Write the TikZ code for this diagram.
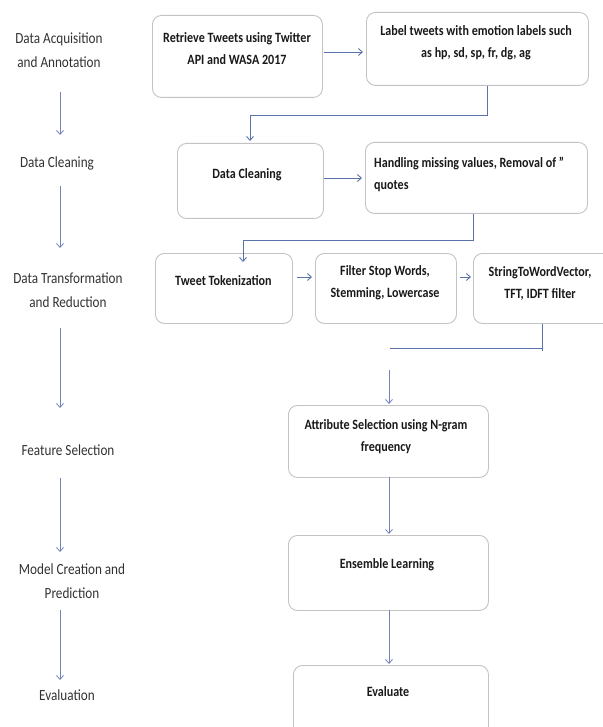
\documentclass[tikz,border=0pt]{standalone}
\usepackage{fontspec}
\setmainfont{Carlito}[FakeStretch=0.85]
\usetikzlibrary{arrows.meta}
\definecolor{boxgray}{RGB}{195,195,195}
\definecolor{linkblue}{RGB}{90,115,170}
\definecolor{arrblue}{RGB}{115,130,185}
\definecolor{labelgray}{RGB}{50,50,50}
\definecolor{boxtext}{RGB}{25,25,25}
\begin{document}
\begin{tikzpicture}[x=1pt,y=-1pt,
  box/.style={draw=boxgray, rounded corners=9pt, line width=0.9pt, anchor=north west, inner sep=0pt},
  btxt/.style={font=\fontsize{14.2}{22}\selectfont\bfseries, align=center, inner sep=0pt, text=boxtext},
  ltxt/.style={font=\fontsize{15.5}{23.5}\selectfont, align=center, inner sep=0pt, text=labelgray},
  conn/.style={draw=linkblue, line width=0.9pt},
  arr/.style={conn, -{Straight Barb[length=4pt,width=7pt]}},
  varr/.style={draw=arrblue, line width=0.8pt, -{Straight Barb[length=4pt,width=7pt]}}]
\useasboundingbox (0,0) rectangle (602,727);
% left column labels
\node[ltxt] (l1) at (59,50) {Data Acquisition\\and Annotation};
\node[ltxt] (l2) at (57,163) {Data Cleaning};
\node[ltxt] (l3) at (68,290) {Data Transformation\\and Reduction};
\node[ltxt] (l4) at (68,450) {Feature Selection};
\node[ltxt] (l5) at (72,581) {Model Creation and\\Prediction};
\node[ltxt] (l6) at (67,695) {Evaluation};
\coordinate (a1s) at (60,92);  \coordinate (a1e) at (60,135);
\coordinate (a2s) at (60,186); \coordinate (a2e) at (60,248);
\coordinate (a3s) at (60,328); \coordinate (a3e) at (60,408);
\coordinate (a4s) at (60,478); \coordinate (a4e) at (60,552);
\coordinate (a5s) at (60,610); \coordinate (a5e) at (60,680);
\draw[varr] (a1s) -- (a1e);
\draw[varr] (a2s) -- (a2e);
\draw[varr] (a3s) -- (a3e);
\draw[varr] (a4s) -- (a4e);
\draw[varr] (a5s) -- (a5e);
% boxes
\node[box, minimum width=170pt, minimum height=82pt] (b1) at (152,15) {};
\node[btxt] (t1) at (237,49) {Retrieve Tweets using Twitter\\API and WASA 2017};
\node[box, minimum width=222pt, minimum height=73pt] (b2) at (366,12) {};
\node[btxt] (t2) at (476,43) {Label tweets with emotion labels such\\as hp, sd, sp, fr, dg, ag};
\node[box, minimum width=146pt, minimum height=75pt] (b3) at (177,143) {};
\node[btxt] (t3) at (247,175) {Data Cleaning};
\node[box, minimum width=222pt, minimum height=71pt] (b4) at (365,142) {};
\node[btxt, align=left, anchor=west] (t4) at (374,174) {Handling missing values, Removal of "\\quotes};
\node[box, minimum width=137pt, minimum height=70pt] (b5) at (155,253) {};
\node[btxt, anchor=west] (t5) at (175,281) {Tweet Tokenization};
\node[box, minimum width=141pt, minimum height=70pt] (b6) at (315,253) {};
\node[btxt] (t6) at (385,283) {Filter Stop Words,\\Stemming, Lowercase};
\node[box, minimum width=140pt, minimum height=70pt] (b7) at (473,253) {};
\node[btxt] (t7) at (540,283) {StringToWordVector,\\TFT, IDFT filter};
\node[box, minimum width=200pt, minimum height=72pt] (b8) at (288,405) {};
\node[btxt] (t8) at (386,437) {Attribute Selection using N-gram\\frequency};
\node[box, minimum width=200pt, minimum height=75pt] (b9) at (288,535) {};
\node[btxt] (t9) at (387,565) {Ensemble Learning};
\node[box, minimum width=195pt, minimum height=80pt] (b10) at (293,665) {};
\node[btxt] (t10) at (388,692) {Evaluate};
% connectors
\coordinate (c12s) at (324,52);
\draw[arr] (c12s) -- ([xshift=-3pt]c12s -| b2.west);
\coordinate (k1) at (487,115);
\draw[conn] (k1 |- b2.south) -- (k1) -- (250,115) coordinate (k1e);
\draw[arr] (k1e) -- ([yshift=2pt]k1e |- b3.north);
\coordinate (c34s) at (324,178);
\draw[arr] (c34s) -- ([xshift=-3pt]c34s -| b4.west);
\coordinate (k2) at (473,240);
\draw[conn] (k2 |- b4.south) -- (k2) -- (243,240) coordinate (k2e);
\draw[arr] (k2e) -- ([yshift=-9pt]k2e |- b5.north);
\coordinate (c56s) at (297,277);
\draw[arr] (c56s) -- ([xshift=-3pt]c56s -| b6.west);
\coordinate (c67s) at (460,277);
\draw[arr] (c67s) -- ([xshift=-2pt]c67s -| b7.west);
\coordinate (k3) at (542,348);
\coordinate (k3e) at (390,348);
\draw[conn] (k3 |- b7.south) -- (542,351);
\draw[conn] (k3) -- (k3e);
\coordinate (a8s) at (389,370);
\draw[varr] (a8s) -- ([yshift=1pt]a8s |- b8.north);
\coordinate (a9s) at (389,477);
\draw[varr] (a9s) -- ([yshift=1pt]a9s |- b9.north);
\coordinate (a10s) at (389,610);
\draw[varr] (a10s) -- ([yshift=1pt]a10s |- b10.north);
\end{tikzpicture}
\end{document}
